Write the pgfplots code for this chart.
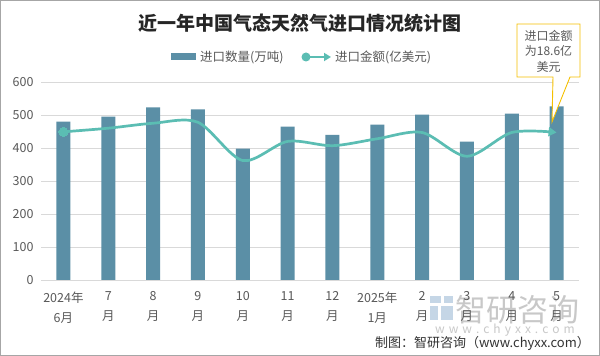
\documentclass[border=0pt]{standalone}
\usepackage{fontspec}
\setmainfont{Noto Sans CJK SC}
\usepackage{pgfplots}
\pgfplotsset{compat=1.18}
\usetikzlibrary{arrows.meta}
\definecolor{barc}{HTML}{5B8FA6}
\definecolor{linec}{HTML}{5BBDB3}
\definecolor{tickc}{HTML}{595959}
\definecolor{gridc}{HTML}{D9D9D9}
\definecolor{callc}{HTML}{F5C000}
\definecolor{wmc}{HTML}{C8C8C8}
\definecolor{wmb}{HTML}{C5D6E6}
\begin{document}
\begin{tikzpicture}[x=1pt,y=1pt]
\useasboundingbox (0,0) rectangle (600,356);
\fill[white] (0,0) rectangle (600,356);
% watermark
\fill[wmb] (430,53) rectangle (441,60);
\fill[wmb] (444,53) rectangle (453,60);
\fill[wmb] (430,36) rectangle (438,50);
\fill[wmb] (441,36) rectangle (453,50);
\node[font=\fontsize{31}{32}\selectfont, text=wmc] at (517,46) {智研咨询};
\node[font=\fontsize{12}{13}\selectfont, text=wmc] at (505,26) {w\,\,w\,\,w\,\,.\,\,c\,\,h\,\,y\,\,x\,\,x\,\,.\,\,c\,\,o\,\,m};
% title
\node[font=\fontsize{19}{20}\selectfont\bfseries, text=black!85] at (300,333) {近一年中国气态天然气进口情况统计图};
% legend
\fill[barc] (171,295.5) rectangle (196,302.5);
\node[anchor=west, font=\fontsize{12.5}{14}\selectfont, text=tickc, inner sep=0pt] at (200,299) {进口数量(万吨)};
\draw[linec, line width=2.5pt, -{Triangle[length=7pt,width=8pt]}] (306,299) -- (331,299);
\fill[linec] (306,299) circle (4.5);
\node[anchor=west, font=\fontsize{12.5}{14}\selectfont, text=tickc, inner sep=0pt] at (335,299) {进口金额(亿美元)};
\begin{axis}[
  at={(41pt,76pt)}, anchor=south west, scale only axis,
  width=538pt, height=198pt,
  xmin=-0.5, xmax=11.5, ymin=0, ymax=600,
  ytick={0,100,...,600},
  xtick={0,...,11},
  xticklabels={{2024年\\6月},{7\\月},{8\\月},{9\\月},{10\\月},{11\\月},{12\\月},{2025年\\1月},{2\\月},{3\\月},{4\\月},{5\\月}},
  axis line style={draw=none},
  major tick length=0pt,
  ymajorgrids, grid style={gridc, line width=0.8pt},
  tick label style={font=\fontsize{12.5}{20}\selectfont, text=tickc},
  xticklabel style={align=center, yshift=-8pt},
  yticklabel style={xshift=-4pt},
  /pgf/number format/assume math mode=true,
  clip=false,
]
\addplot[ybar, bar width=14pt, fill=barc, draw=none] coordinates {
(0,480) (1,495) (2,523) (3,517) (4,398) (5,465) (6,440) (7,471) (8,501) (9,419) (10,504) (11,526)};
\addplot[smooth, linec, line width=2.7pt, -{Triangle[length=8pt,width=9pt]},
  mark=*, mark indices={1},
  mark options={solid, mark size=4.5pt, fill=linec, draw=linec, line width=0pt}] coordinates {
(0,449) (1,460) (2,475) (3,478) (4,362) (5,420) (6,407) (7,428) (8,447) (9,375) (10,447) (11,447)};
\end{axis}
% callout
\filldraw[fill=white, draw=callc, line width=0.9pt] (517,332) -- (580,332) -- (580,279) -- (570,279) -- (552,234) -- (553,279) -- (517,279) -- cycle;
\node[align=center, font=\fontsize{12}{15.5}\selectfont, text=tickc] at (548.5,305) {进口金额\\为18.6亿\\美元};
% footer
\node[anchor=east, font=\fontsize{13}{14}\selectfont, text=black!80, inner sep=0pt] at (590,13) {制图：智研咨询（www.chyxx.com）};
\draw[gray!70, line width=1pt] (0.5,0.5) rectangle (599.5,355.5);
\end{tikzpicture}
\end{document}
